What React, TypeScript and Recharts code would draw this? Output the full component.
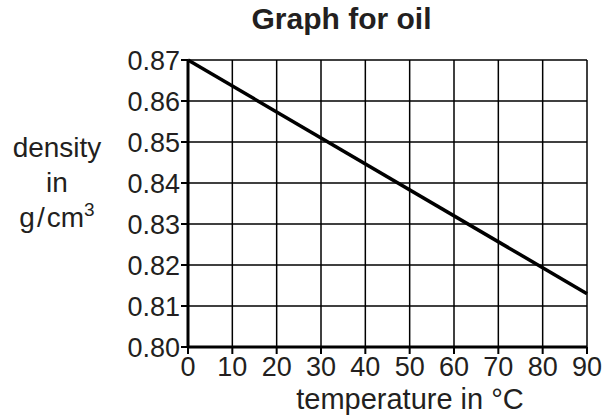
import React from 'react';
import { LineChart, Line, XAxis, YAxis, CartesianGrid } from 'recharts';

const temperatures = [0, 90];
const densities = [0.87, 0.813];
const xTicks = [0, 10, 20, 30, 40, 50, 60, 70, 80, 90];
const yTicks = [0.8, 0.81, 0.82, 0.83, 0.84, 0.85, 0.86, 0.87];

const data = temperatures.map((t, i) => ({ temperature: t, density: densities[i] }));

const font = '"Liberation Sans", Arial, Helvetica, sans-serif';
const ink = '#231f20';

const App: React.FC = () => {
  return (
    <div style={{ position: 'absolute', left: 0, top: 0, width: 604, height: 419, fontFamily: font, background: '#fff' }}>
      <div
        style={{
          position: 'absolute',
          left: 0,
          width: 683,
          top: 2,
          textAlign: 'center',
          fontSize: 30,
          lineHeight: '34px',
          fontWeight: 'bold',
          color: ink,
        }}
      >
        Graph for oil
      </div>
      <div
        style={{
          position: 'absolute',
          left: 0,
          width: 114,
          top: 130,
          textAlign: 'center',
          fontSize: 28,
          lineHeight: '35px',
          color: ink,
        }}
      >
        density
        <br />
        in
        <br />
        g<span style={{ margin: '0 2px' }}>/</span>cm
        <sup style={{ fontSize: 19, verticalAlign: 'top', lineHeight: '19px' }}>3</sup>
      </div>
      <div
        style={{
          position: 'absolute',
          left: 0,
          width: 820,
          top: 383,
          textAlign: 'center',
          fontSize: 29,
          lineHeight: '33px',
          color: ink,
        }}
      >
        temperature in °C
      </div>
      <LineChart
        width={604}
        height={419}
        data={data}
        margin={{ top: 60, right: 17, bottom: 0, left: 0 }}
        style={{ position: 'absolute', left: 0, top: 0 }}
      >
        <CartesianGrid stroke="#000" strokeWidth={1.5} />
        <XAxis
          dataKey="temperature"
          type="number"
          domain={[0, 90]}
          ticks={xTicks}
          height={72}
          axisLine={{ stroke: '#000', strokeWidth: 3 }}
          tickLine={{ stroke: '#000', strokeWidth: 2 }}
          tickSize={7}
          tickMargin={3}
          tick={{ fill: ink, fontSize: 27, fontFamily: font }}
          interval={0}
        />
        <YAxis
          type="number"
          domain={[0.8, 0.87]}
          ticks={yTicks}
          width={188}
          axisLine={{ stroke: '#000', strokeWidth: 3 }}
          tickLine={{ stroke: '#000', strokeWidth: 2 }}
          tickSize={7}
          tickMargin={1}
          tick={{ fill: ink, fontSize: 27, fontFamily: font }}
          tickFormatter={(v: number) => v.toFixed(2)}
          interval={0}
        />
        <Line
          dataKey="density"
          stroke="#000"
          strokeWidth={3.5}
          dot={false}
          isAnimationActive={false}
        />
      </LineChart>
    </div>
  );
};

export default App;
